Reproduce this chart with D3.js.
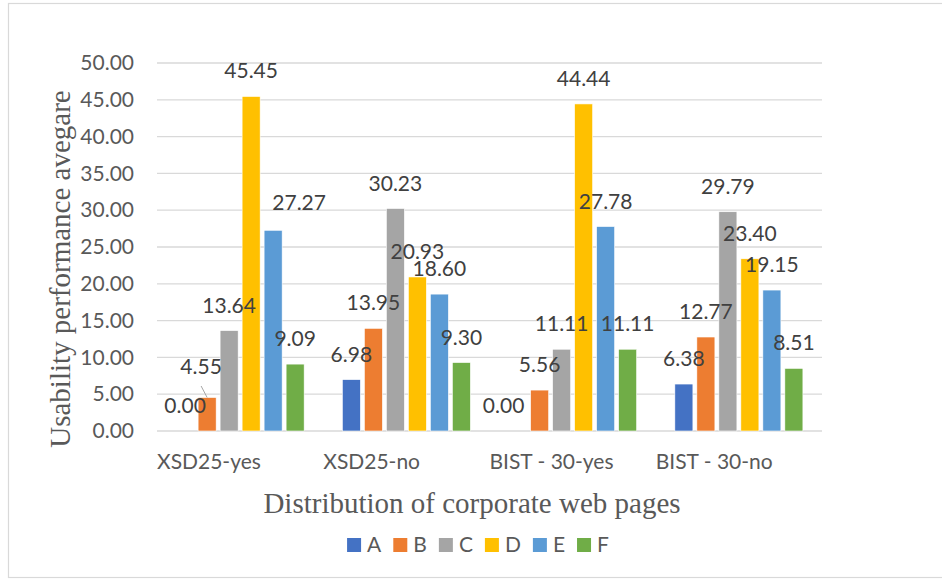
<!DOCTYPE html>
<html>
<head>
<meta charset="utf-8">
<script src="https://cdn.jsdelivr.net/npm/d3@7"></script>
<style>
  html, body { margin: 0; padding: 0; background: #ffffff; }
  svg { display: block; }
</style>
</head>
<body>
<svg id="chart" width="942" height="579"></svg>
<script>
// Groups along the x axis
const categories = ["XSD25-yes", "XSD25-no", "BIST - 30-yes", "BIST - 30-no"];
// One series per page class
const seriesNames = ["A", "B", "C", "D", "E", "F"];
const valuesA = [0.00, 6.98, 0.00, 6.38];
const valuesB = [4.55, 13.95, 5.56, 12.77];
const valuesC = [13.64, 30.23, 11.11, 29.79];
const valuesD = [45.45, 20.93, 44.44, 23.40];
const valuesE = [27.27, 18.60, 27.78, 19.15];
const valuesF = [9.09, 9.30, 11.11, 8.51];
const yTicks = [0, 5, 10, 15, 20, 25, 30, 35, 40, 45, 50];

const seriesValues = [valuesA, valuesB, valuesC, valuesD, valuesE, valuesF];
const colors = ["#4472C4", "#ED7D31", "#A5A5A5", "#FFC000", "#5B9BD5", "#70AD47"];

// Labels moved away from crowded spots: [group, series, dx, dy, leader line]
const labelNudges = [
  [0, 1, -6, -5.5, true],
  [0, 4, 26, -2, false],
  [2, 0, -14, 0, false]
];

const sans = "Lato, 'Open Sans', sans-serif";
const serif = "'Liberation Serif', 'DejaVu Serif', serif";
const textColor = "#595959";
const gridColor = "#d9d9d9";

const svg = d3.select("#chart");

// Outer frame
svg.append("rect")
  .attr("x", 8.5).attr("y", 3.5)
  .attr("width", 940).attr("height", 574)
  .attr("fill", "#ffffff")
  .attr("stroke", gridColor).attr("stroke-width", 1.2);

const plot = { left: 157, right: 822, top: 63, bottom: 431 };

const x0 = d3.scaleBand()
  .domain(categories)
  .range([plot.left, plot.right])
  .paddingInner(0.206).paddingOuter(0.103);

const x1 = d3.scaleBand()
  .domain(seriesNames)
  .range([0, x0.bandwidth()])
  .paddingInner(0.18).paddingOuter(0.09);

const y = d3.scaleLinear().domain([0, 50]).range([plot.bottom, plot.top]);

// Gridlines
svg.append("g")
  .selectAll("line")
  .data(yTicks)
  .join("line")
  .attr("x1", plot.left).attr("x2", plot.right)
  .attr("y1", d => y(d)).attr("y2", d => y(d))
  .attr("stroke", gridColor).attr("stroke-width", 1.3);

// Value axis labels
const yAxis = svg.append("g")
  .attr("transform", `translate(${plot.left - 23},0)`)
  .call(d3.axisLeft(y).tickValues(yTicks).tickFormat(d3.format(".2f")).tickSize(0).tickPadding(0));
yAxis.select(".domain").remove();
yAxis.selectAll("text")
  .attr("font-family", sans).attr("font-size", 21)
  .attr("fill", textColor);

// Category labels sit at the start of each group
svg.append("g")
  .selectAll("text")
  .data(categories)
  .join("text")
  .attr("x", d => x0(d) - x0.step() * 0.103)
  .attr("y", 469)
  .attr("font-family", sans).attr("font-size", 21)
  .attr("fill", textColor)
  .text(d => d);

// Flattened records for bars and labels
const records = [];
categories.forEach((c, gi) => {
  seriesNames.forEach((s, si) => {
    records.push({ c, gi, s, si, v: seriesValues[si][gi] });
  });
});

// Bars
svg.append("g")
  .selectAll("rect")
  .data(records)
  .join("rect")
  .attr("x", d => x0(d.c) + x1(d.s))
  .attr("y", d => y(d.v))
  .attr("width", x1.bandwidth())
  .attr("height", d => y(0) - y(d.v))
  .attr("fill", d => colors[d.si])
  .attr("stroke", "#ffffff").attr("stroke-width", 0.6);

// Value labels
const nudgeOf = d => labelNudges.find(n => n[0] === d.gi && n[1] === d.si);
const labelX = d => x0(d.c) + x1(d.s) + x1.bandwidth() / 2 + (nudgeOf(d) ? nudgeOf(d)[2] : 0);
const labelY = d => y(d.v) - 18 + (nudgeOf(d) ? nudgeOf(d)[3] : 0);

svg.append("g")
  .selectAll("line")
  .data(records.filter(d => nudgeOf(d) && nudgeOf(d)[4]))
  .join("line")
  .attr("x1", d => x0(d.c) + x1(d.s) + x1.bandwidth() / 2)
  .attr("y1", d => y(d.v))
  .attr("x2", d => labelX(d))
  .attr("y2", d => labelY(d) + 12)
  .attr("stroke", "#a6a6a6").attr("stroke-width", 1);

svg.append("g")
  .selectAll("text")
  .data(records)
  .join("text")
  .attr("x", labelX)
  .attr("y", labelY)
  .attr("text-anchor", "middle")
  .attr("font-family", sans).attr("font-size", 21)
  .attr("fill", "#404040")
  .text(d => d3.format(".2f")(d.v));

// Axis titles
svg.append("text")
  .attr("x", 472).attr("y", 513)
  .attr("text-anchor", "middle")
  .attr("font-family", serif).attr("font-size", 29)
  .attr("fill", textColor)
  .text("Distribution of corporate web pages");

svg.append("text")
  .attr("transform", "translate(70,269) rotate(-90)")
  .attr("text-anchor", "middle")
  .attr("font-family", serif).attr("font-size", 29)
  .attr("fill", textColor)
  .text("Usability performance avegare");

// Legend, laid out from measured label widths and centred
const legend = svg.append("g");
const items = legend.selectAll("g")
  .data(seriesNames)
  .join("g");
items.append("rect")
  .attr("width", 14).attr("height", 14)
  .attr("y", 538)
  .attr("fill", (d, i) => colors[i]);
items.append("text")
  .attr("x", 20).attr("y", 552)
  .attr("font-family", sans).attr("font-size", 21)
  .attr("fill", textColor)
  .text(d => d);
let cursor = 0;
const offsets = [];
items.each(function () {
  const w = d3.select(this).select("text").node().getComputedTextLength();
  offsets.push(cursor);
  cursor += 20 + w + 12;
});
const totalWidth = cursor - 12;
const legendStart = 478 - totalWidth / 2;
items.attr("transform", (d, i) => `translate(${legendStart + offsets[i]},0)`);
</script>
</body>
</html>
